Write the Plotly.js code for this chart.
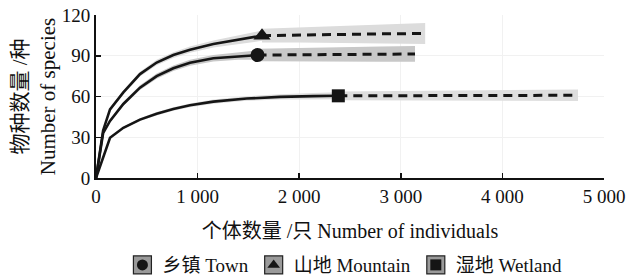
<!DOCTYPE html>
<html><head><meta charset="utf-8">
<script src="https://cdn.plot.ly/plotly-3.0.1.min.js"></script>
<style>html,body{margin:0;padding:0;background:#fff}#chart{width:643px;height:278px}</style>
</head><body><div id="chart"></div><script>
// ---- data ----
const seriesNames = ['乡镇 Town', '山地 Mountain', '湿地 Wetland'];
const seriesSymbols = ['circle', 'triangle-up', 'square'];

// 乡镇 Town – rarefaction (interpolated)
const townN  = [0, 70, 138, 269, 433, 597, 761, 925, 1155, 1400, 1590];
const townS  = [0, 33, 42, 54.5, 66.5, 75, 80.8, 84.8, 88.2, 89.8, 90.5];
const townCI = [0, 0.5, 1, 1.5, 1.8, 2, 2, 2.2, 2.4, 2.8, 3.5];
// extrapolated
const townExtN  = [1590, 2000, 2400, 2800, 3140];
const townExtS  = [90.5, 90.8, 91, 91.2, 91.3];
const townExtCI = [4.6, 5, 5.3, 5.6, 5.8];

// 山地 Mountain
const mountN  = [0, 70, 138, 269, 433, 597, 761, 925, 1155, 1400, 1634];
const mountS  = [0, 35, 50.5, 63, 76.5, 85, 90.5, 94.5, 98.6, 101.7, 104.8];
const mountCI = [0, 0.5, 1, 1.5, 1.8, 2, 2.1, 2.3, 2.6, 3.1, 3.8];
const mountExtN  = [1634, 2000, 2400, 2800, 3240];
const mountExtS  = [104.8, 105.3, 105.7, 106.1, 106.4];
const mountExtCI = [5, 5.6, 6.3, 7, 7.8];

// 湿地 Wetland
const wetN  = [0, 138, 269, 433, 597, 761, 925, 1155, 1483, 1811, 2139, 2385];
const wetS  = [0, 29.6, 37, 43, 47.3, 50.8, 53.5, 56.2, 58.5, 59.7, 60.3, 60.5];
const wetCI = [0, 0.5, 0.8, 1, 1.2, 1.3, 1.4, 1.5, 1.7, 2, 2.3, 2.6];
const wetExtN  = [2385, 3000, 3600, 4200, 4744];
const wetExtS  = [60.5, 60.6, 60.7, 60.8, 60.9];
const wetExtCI = [3.2, 3.5, 3.8, 4, 4.2];

const xTickVals = [0, 1000, 2000, 3000, 4000, 5000];
const xTickText = ['0', '1 000', '2 000', '3 000', '4 000', '5 000'];
const yTickVals = [0, 30, 60, 90, 120];

// ---- build traces ----
const FONT = 'Liberation Serif, Times New Roman, Noto Sans CJK SC, serif';
function band(n, s, ci, color) {
  const up = s.map((v, i) => v + ci[i]);
  const lo = s.map((v, i) => v - ci[i]);
  return {x: n.concat(n.slice().reverse()), y: up.concat(lo.slice().reverse()),
    type: 'scatter', mode: 'lines', fill: 'toself', fillcolor: color,
    line: {width: 0, color: color}, hoverinfo: 'skip', showlegend: false};
}
function solid(n, s) {
  return {x: n, y: s, type: 'scatter', mode: 'lines', line: {color: '#151515', width: 2.6}, showlegend: false};
}
function dashed(n, s) {
  return {x: n, y: s, type: 'scatter', mode: 'lines', line: {color: '#151515', width: 3, dash: '9px,6px'}, showlegend: false};
}
function endMarker(n, s, sym, size) {
  return {x: [n[n.length - 1]], y: [s[s.length - 1]], type: 'scatter', mode: 'markers',
    marker: {symbol: sym, size: size, color: '#151515'}, showlegend: false};
}

const bandColors = ['#c8c8c8', '#dcdcdc', '#dedede'];
const traces = [
  band(townN, townS, townCI, bandColors[0]), band(townExtN, townExtS, townExtCI, bandColors[0]),
  band(mountN, mountS, mountCI, bandColors[1]), band(mountExtN, mountExtS, mountExtCI, bandColors[1]),
  band(wetN, wetS, wetCI, bandColors[2]), band(wetExtN, wetExtS, wetExtCI, bandColors[2]),
  solid(townN, townS), dashed(townExtN, townExtS),
  solid(mountN, mountS), dashed(mountExtN, mountExtS),
  solid(wetN, wetS), dashed(wetExtN, wetExtS),
  endMarker(townN, townS, seriesSymbols[0], 14),
  endMarker(mountN, mountS, seriesSymbols[1], 15),
  endMarker(wetN, wetS, seriesSymbols[2], 13)
];
seriesNames.forEach((nm, i) => {
  traces.push({x: [null], y: [null], type: 'scatter', mode: 'markers', name: nm,
    marker: {symbol: seriesSymbols[i], size: 11, color: '#151515'}});
});

const layout = {
  width: 643, height: 278,
  margin: {l: 96, r: 39, t: 15, b: 100, autoexpand: false},
  paper_bgcolor: '#fff', plot_bgcolor: '#fff',
  font: {family: FONT, size: 19, color: '#111'},
  showlegend: true,
  legend: {orientation: 'h', x: 0.49, xanchor: 'center', y: -0.534, yanchor: 'middle',
    font: {family: FONT, size: 19, color: '#111'}, bgcolor: 'rgba(0,0,0,0)', itemclick: false},
  xaxis: {range: [0, 5000], tickvals: xTickVals, ticktext: xTickText,
    showline: true, linecolor: '#111', linewidth: 2, ticks: 'inside', ticklen: 5, tickwidth: 1.5, tickcolor: '#111',
    showgrid: true, gridcolor: '#f1f1f1', zeroline: false,
    title: {text: '个体数量 /只 Number of individuals', font: {family: FONT, size: 20}, standoff: 18}},
  yaxis: {range: [0, 120], tickvals: yTickVals,
    showline: true, linecolor: '#111', linewidth: 2, ticks: 'inside', ticklen: 5, tickwidth: 1.5, tickcolor: '#111',
    showgrid: true, gridcolor: '#f1f1f1', zeroline: false,
    title: {text: '物种数量 /种<br>Number of species', font: {family: FONT, size: 21}}}
};

Plotly.newPlot('chart', traces, layout, {staticPlot: true}).then(gd => {
  const sz = gd._fullLayout._size;
  const root = gd.getBoundingClientRect();
  const pts = gd.querySelectorAll('.legend .traces .legendpoints path.scatterpts');
  if (!pts.length) return;
  const r0 = pts[0].getBoundingClientRect();
  const cy = (r0.top + r0.bottom) / 2 - root.top;
  const half = 9;
  const shapes = [];
  pts.forEach(p => {
    const r = p.getBoundingClientRect();
    const cx = (r.left + r.right) / 2 - root.left;
    shapes.push({type: 'rect', xref: 'paper', yref: 'paper', layer: 'above',
      x0: (cx - half - sz.l) / sz.w, x1: (cx + half - sz.l) / sz.w,
      y0: 1 - (cy + half - sz.t) / sz.h, y1: 1 - (cy - half - sz.t) / sz.h,
      fillcolor: '#9a9a9a', line: {color: '#222', width: 1.2}});
  });
  return Plotly.relayout(gd, {shapes: shapes});
});
</script></body></html>
